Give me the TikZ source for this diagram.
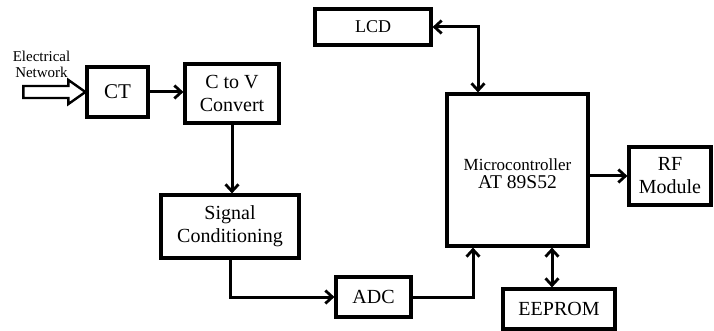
\documentclass[tikz,border=0pt]{standalone}
\usepackage{fontspec}
\setmainfont{Liberation Serif}
\usetikzlibrary{arrows.meta,calc}
\begin{document}
\begin{tikzpicture}[x=1pt,y=-1pt,
  blk/.style={draw,line width=3.2pt,inner sep=0pt,align=center,
    font=\fontsize{20}{23}\selectfont},
  conn/.style={line width=3pt,-{Straight Barb[length=7pt,width=13pt,line width=2.8pt]}},
  bconn/.style={line width=3pt,{Straight Barb[length=7pt,width=13pt,line width=2.8pt]}-{Straight Barb[length=7pt,width=13pt,line width=2.8pt]}}]
\useasboundingbox (0,0) rectangle (714,331);
\node[blk,minimum width=61pt,minimum height=50pt,font=\fontsize{21}{24}\selectfont] (CT) at (117.5,92) {CT};
\node[blk,minimum width=94pt,minimum height=59pt] (CV) at (232,93.5) {C to V\\Convert};
\node[blk,minimum width=138pt,minimum height=63pt] (SC) at (230,226.5) {Signal\\Conditioning};
\node[blk,minimum width=75pt,minimum height=40pt] (ADC) at (373.5,297) {ADC};
\node[blk,minimum width=141pt,minimum height=152pt] (MCU) at (517.5,170) {};
\node[font=\fontsize{17}{18}\selectfont] (mt1) at (517.5,165) {Microcontroller};
\node[font=\fontsize{19.5}{20}\selectfont] (mt2) at (517.5,182) {AT 89S52};
\node[blk,minimum width=82pt,minimum height=58pt] (RF) at (670,176) {RF\\Module};
\node[blk,minimum width=112pt,minimum height=40pt] (EE) at (559,309) {EEPROM};
\node[blk,minimum width=116pt,minimum height=36pt,font=\fontsize{18}{20}\selectfont] (LCD) at (373,27) {LCD};
\node[align=center,font=\fontsize{15}{16}\selectfont] (en) at (41.5,64) {Electrical\\Network};
% hollow input arrow
\draw[line width=2.4pt,line join=miter] (CT.west) -- ($(CT.west)+(-17,-12)$) -- ($(CT.west)+(-17,-6)$)
  -- ($(CT.west)+(-62,-6)$) -- ($(CT.west)+(-62,6)$) -- ($(CT.west)+(-17,6)$)
  -- ($(CT.west)+(-17,12)$) -- cycle;
\draw[conn] (CT.east) -- (CT.east -| CV.west);
\draw[conn] (CV.south) -- (SC.north -| CV.south);
\draw[conn] (SC.south) |- (ADC.west);
\draw[conn] (ADC.east) -| ([xshift=-44.5pt]MCU.south);
\draw[conn] (MCU.east |- RF.west) -- (RF.west);
\draw[bconn] ([xshift=-7pt]EE.north |- MCU.south) -- ([xshift=-7pt]EE.north);
\draw[bconn] (LCD.east) -| ([xshift=-39.5pt]MCU.north);
\end{tikzpicture}
\end{document}
